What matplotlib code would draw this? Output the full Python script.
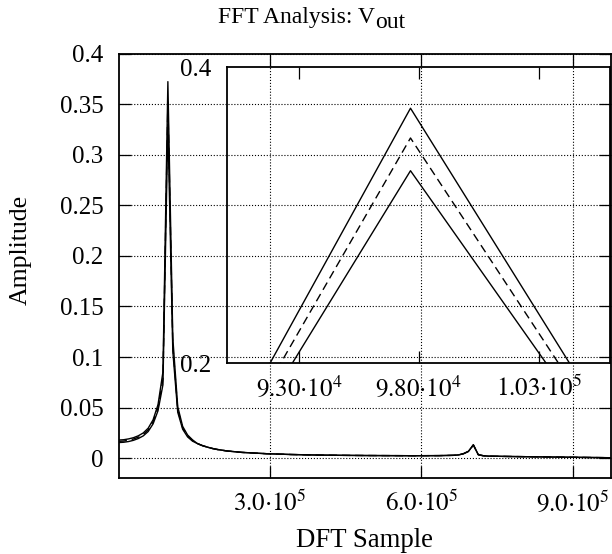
import matplotlib
matplotlib.use("Agg")
import matplotlib.pyplot as plt
import numpy as np

plt.rcParams["font.family"] = "serif"
plt.rcParams["font.serif"] = ["Liberation Serif", "DejaVu Serif"]
plt.rcParams["mathtext.fontset"] = "stix"

# DFT bin spacing (Hz per sample) and the bins
BIN = 9765.625
bins = [0, 1, 2, 3, 4, 5, 6, 7, 8, 9, 10, 11, 12, 13, 14, 15,
        16, 17, 18, 19, 20, 22, 25, 30, 35, 40, 45, 50, 55, 60, 65,
        68, 69, 70, 71, 72, 73, 74, 75, 80, 85, 90, 95, 100]

# bins 0..15 differ between the three traces
upper_head = [0.0180, 0.0183, 0.0191, 0.0203, 0.0222, 0.0250, 0.0297, 0.0380,
              0.0530, 0.0854, 0.3722, 0.1189, 0.0510, 0.0315, 0.0230, 0.0182]
mid_head = [0.0167, 0.0170, 0.0178, 0.0190, 0.0208, 0.0235, 0.0280, 0.0360,
            0.0500, 0.0780, 0.3521, 0.1117, 0.0480, 0.0300, 0.0220, 0.0175]
lower_head = [0.0155, 0.0158, 0.0165, 0.0177, 0.0195, 0.0221, 0.0264, 0.0340,
              0.0470, 0.0727, 0.3300, 0.1058, 0.0455, 0.0287, 0.0211, 0.0169]
# bins 16..100 overlap
tail = [0.0145, 0.0125, 0.0110, 0.0097, 0.0087, 0.0072, 0.0058, 0.0045, 0.0037,
        0.0032, 0.0029, 0.0027, 0.0026, 0.0025, 0.0026, 0.0029, 0.0033, 0.0045,
        0.0068, 0.0132, 0.0035, 0.0025, 0.0021, 0.0017, 0.0014, 0.0011, 0.0008, 0.0005]

main_xticks = [3.0e5, 6.0e5, 9.0e5]
main_xlabels = [r"$3.0{\cdot}10^{5}$", r"$6.0{\cdot}10^{5}$", r"$9.0{\cdot}10^{5}$"]
main_yticks = [0, 0.05, 0.1, 0.15, 0.2, 0.25, 0.3, 0.35, 0.4]
inset_xticks = [9.3e4, 9.8e4, 1.03e5]
inset_xlabels = [r"$9.30{\cdot}10^{4}$", r"$9.80{\cdot}10^{4}$", r"$1.03{\cdot}10^{5}$"]
inset_yticks = [0.2, 0.4]

x = np.array(bins) * BIN
traces = [(upper_head + tail, "-"), (mid_head + tail, "--"), (lower_head + tail, "-")]

fig = plt.figure(figsize=(6.12, 5.54), dpi=100)
ax = fig.add_axes([0.1938, 0.1363, 0.8038, 0.7671])
for y, ls in traces:
    ax.plot(x, y, color="black", ls=ls, lw=1.0, dashes=(6, 3.5) if ls == "--" else (None, None))
ax.set_xlim(0, 975000)
ax.set_ylim(-0.02, 0.4)
ax.set_xticks(main_xticks)
ax.set_xticklabels(main_xlabels)
ax.set_yticks(main_yticks)
ax.set_yticklabels([f"{v:g}" for v in main_yticks])
ax.tick_params(direction="in", length=8.5, width=0.9, top=True, right=True, labelsize=18)
ax.tick_params(axis="y", pad=11)
ax.tick_params(axis="x", pad=9)
ax.grid(True, ls=":", color="black", lw=0.8)
for s in ax.spines.values():
    s.set_linewidth(1.3)
ax.set_xlabel("DFT Sample", fontsize=19.3, labelpad=8)
fig.text(21 / 612, 1 - 250 / 554, "Amplitude", rotation=90, fontsize=18.5, ha="center", va="center")

# gnuplot-style title: subscript at full size, just dropped a few pixels
t1 = fig.text(218 / 612, 1 - 22.7 / 554, "FFT Analysis: V", fontsize=17, ha="left", va="baseline")
fig.canvas.draw()
bb = t1.get_window_extent()
fig.text(bb.x1 / 612, 1 - 27.7 / 554, "out", fontsize=17, ha="left", va="baseline")

# zoom on the main peak
ins = fig.add_axes([0.3709, 0.3442, 0.6266, 0.5348])
ins.patch.set_alpha(0)
for y, ls in traces:
    ins.plot(x, y, color="black", ls=ls, lw=1.0, dashes=(6, 3.5) if ls == "--" else (None, None))
ins.set_xlim(90000, 106000)
ins.set_ylim(0.2, 0.4)
ins.set_xticks(inset_xticks)
ins.set_xticklabels(inset_xlabels)
ins.set_yticks(inset_yticks)
ins.set_yticklabels([f"{v:g}" for v in inset_yticks])
ins.tick_params(axis="x", direction="in", length=8.5, width=0.9, top=True, labelsize=18, pad=9)
ins.tick_params(axis="y", length=0, labelsize=18, pad=11)
for s in ins.spines.values():
    s.set_linewidth(1.3)

fig.savefig("out.png", dpi=100)
